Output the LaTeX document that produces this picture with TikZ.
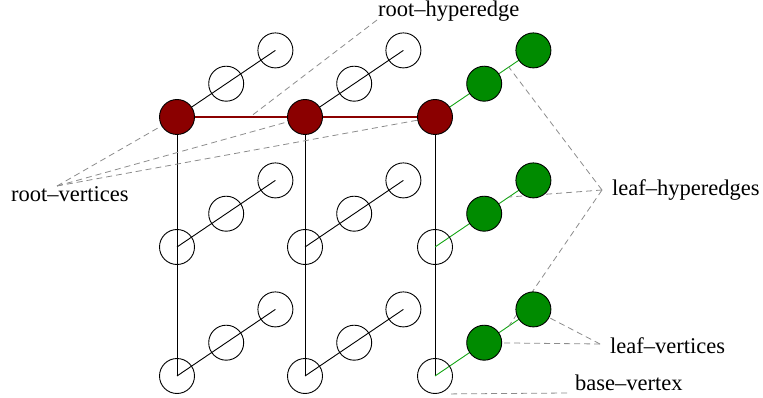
\documentclass[tikz,border=0pt]{standalone}
\usepackage{fontspec}
\setmainfont{Liberation Serif}
\usetikzlibrary{calc}
\pgfdeclarelayer{background}
\pgfsetlayers{background,main}
\definecolor{rootred}{RGB}{139,0,0}
\definecolor{leafgreen}{RGB}{0,139,0}
\definecolor{leafline}{RGB}{20,165,20}
\definecolor{guidegray}{RGB}{140,140,140}
\tikzset{
  vtx/.style={circle,draw=black,line width=0.9pt,minimum size=35pt,inner sep=0pt},
  sty-1-1-0/.style={fill=rootred},
  sty-2-1-0/.style={fill=rootred},
  sty-3-1-0/.style={fill=rootred},
  sty-3-1-1/.style={fill=leafgreen},
  sty-3-1-2/.style={fill=leafgreen},
  sty-3-2-1/.style={fill=leafgreen},
  sty-3-2-2/.style={fill=leafgreen},
  sty-3-3-1/.style={fill=leafgreen},
  sty-3-3-2/.style={fill=leafgreen},
  blackedge/.style={draw=black,line width=0.9pt},
  greenedge/.style={draw=leafline,line width=0.9pt},
  rededge/.style={draw=rootred,line width=1.4pt},
  guide/.style={draw=guidegray,line width=0.8pt,dash pattern=on 6pt off 4pt},
  lbl/.style={font=\fontsize{22.5}{27}\selectfont,inner sep=0pt,anchor=base west}
}
\begin{document}
\begin{tikzpicture}[x=1pt,y=-1pt]
\useasboundingbox (0,0) rectangle (763,398);
% vertices
\foreach \c/\x in {1/177,2/305,3/435}{
  \foreach \r/\y in {1/117,2/247,3/376}{
    \foreach \k in {0,1,2}{
      \node[vtx,sty-\c-\r-\k/.try] (v-\c-\r-\k) at ({\x+49.2*\k},{\y-33.3*\k}) {};
    }
  }
}
% labels
\node[lbl] (lrh) at (378,17) {root–hyperedge};
\node[lbl] (lrv) at (11,202) {root–vertices};
\node[lbl] (llh) at (612,196) {leaf–hyperedges};
\node[lbl] (llv) at (610,353) {leaf–vertices};
\node[lbl] (lbv) at (575,390) {base–vertex};
% guide anchor points
\coordinate (prh) at (377,20);
\coordinate (prv) at (57,186);
\coordinate (plh) at (602,190);
\coordinate (plv) at (600,344);
\coordinate (pbv) at (567,393);
\begin{pgfonlayer}{background}
  % vertical edges
  \foreach \c in {1,2,3}{
    \draw[blackedge] (v-\c-1-0.center) -- (v-\c-3-0.center);
  }
  % diagonal edges
  \foreach \c in {1,2}{
    \foreach \r in {1,2,3}{
      \draw[blackedge] (v-\c-\r-0.center) -- (v-\c-\r-2.center);
    }
  }
  \foreach \r in {1,2,3}{
    \draw[greenedge] (v-3-\r-0.center) -- (v-3-\r-2.center);
  }
  % root hyperedge
  \draw[rededge] (v-1-1-0.center) -- (v-3-1-0.center);
  % guides
  \draw[guide] (prh) -- ($(v-1-1-0.center)!0.57!(v-2-1-0.center)$);
  \foreach \c in {1,2,3}{
    \draw[guide] (prv) -- (v-\c-1-0.center);
  }
  \foreach \r in {1,2,3}{
    \draw[guide] (plh) -- ($(v-3-\r-1.center)!0.5!(v-3-\r-2.center)$);
  }
  \draw[guide] (plv) -- (v-3-3-1.center);
  \draw[guide] (plv) -- (v-3-3-2.center);
  \draw[guide] (pbv) -- ($(v-3-3-0.south)+(12,0)$);
\end{pgfonlayer}
\end{tikzpicture}
\end{document}
